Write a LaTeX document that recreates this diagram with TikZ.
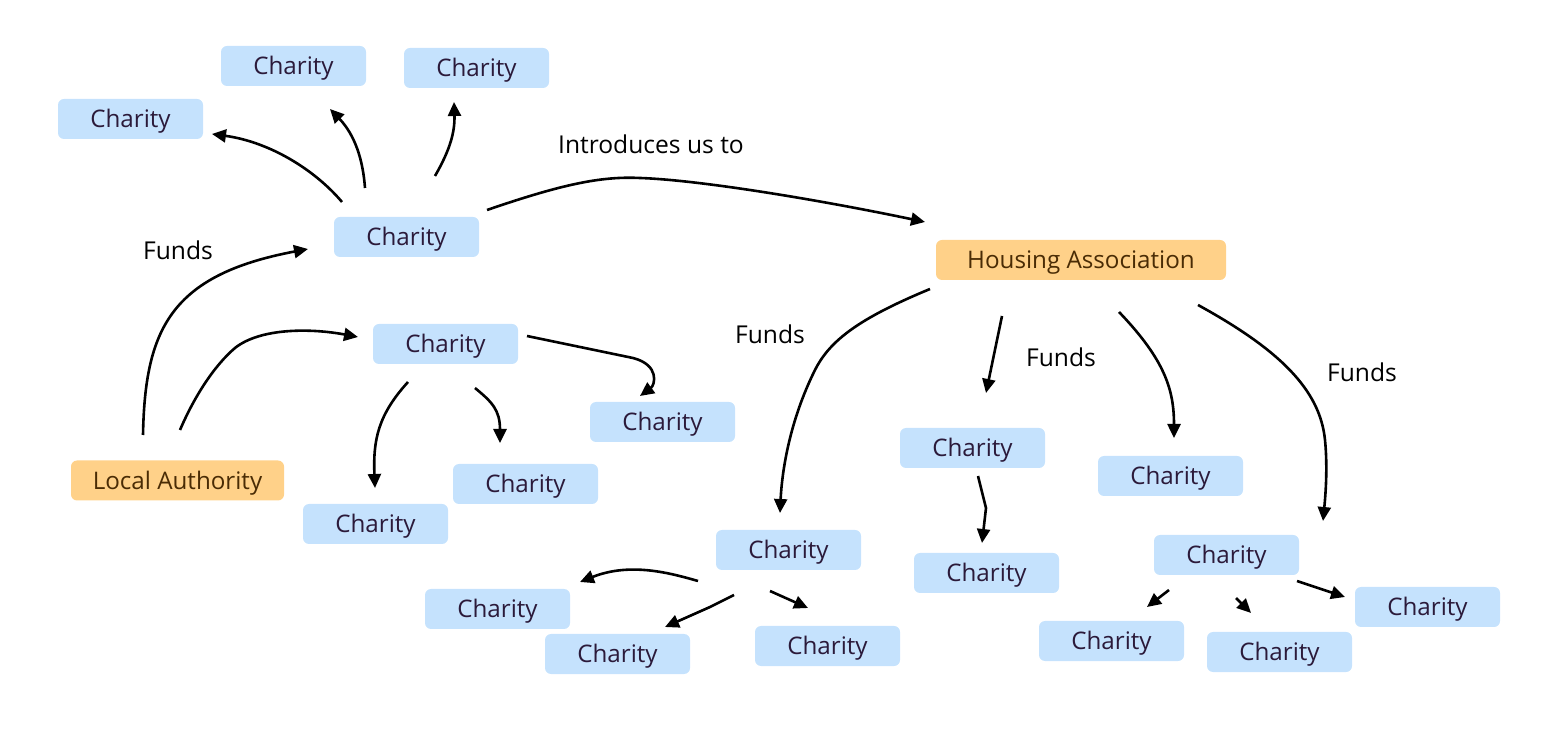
\documentclass[tikz,border=0pt]{standalone}
\usepackage{fontspec}
\setmainfont{Open Sans}
\usetikzlibrary{arrows.meta,calc}
\definecolor{cblue}{HTML}{C5E2FD}
\definecolor{corange}{HTML}{FFD189}
\definecolor{ctext}{HTML}{2B1A3A}
\definecolor{otext}{HTML}{4A2C05}
\tikzset{
  box/.style={rounded corners=3pt,minimum height=20pt,inner sep=0pt,text height=8.6pt,text depth=0pt,font=\fontsize{12.1}{14}\selectfont},
  charity/.style={box,fill=cblue,text=ctext,minimum width=72.5pt},
  org/.style={box,fill=corange,text=otext},
  lbl/.style={font=\fontsize{12.3}{14}\selectfont,text=black,text height=8.8pt,text depth=0pt,inner sep=0pt},
  arr/.style={line width=1.3pt,-{Triangle[length=7pt,width=6.5pt]}}
}
\begin{document}
\begin{tikzpicture}[x=0.5pt,y=-0.5pt]
\useasboundingbox (0,0) rectangle (1558,731);
% nodes
\node[charity] (c1) at (293.5,66) {Charity};
\node[charity] (c2) at (476.5,68) {Charity};
\node[charity] (c3) at (130.5,119) {Charity};
\node[charity] (c4) at (406.5,237) {Charity};
\node[charity] (c5) at (445.5,344) {Charity};
\node[charity] (c6) at (662.5,422) {Charity};
\node[charity] (c7) at (525.5,484) {Charity};
\node[charity] (c8) at (375.5,524) {Charity};
\node[org,minimum width=106.5pt] (la) at (177.5,480.5) {Local Authority};
\node[org,minimum width=145pt] (ha) at (1081,260) {Housing Association};
\node[charity] (c9) at (972.5,448) {Charity};
\node[charity] (c10) at (986.5,573) {Charity};
\node[charity] (c11) at (1170.5,476) {Charity};
\node[charity] (c12) at (788.5,550) {Charity};
\node[charity] (c13) at (497.5,609) {Charity};
\node[charity] (c14) at (617.5,654) {Charity};
\node[charity] (c15) at (827.5,646) {Charity};
\node[charity] (c16) at (1226.5,555) {Charity};
\node[charity] (c17) at (1111.5,641) {Charity};
\node[charity] (c18) at (1279.5,652) {Charity};
\node[charity] (c19) at (1427.5,607) {Charity};
% labels
\node[lbl] (l1) at (651,145) {Introduces us to};
\node[lbl] (l2) at (178,251) {Funds};
\node[lbl] (l3) at (770,335) {Funds};
\node[lbl] (l4) at (1061,358) {Funds};
\node[lbl] (l5) at (1362,373) {Funds};
% connectors
\draw[arr] ([shift={(-64.5,-35)}]c4.center) .. controls (315,170) and (270,142) .. ([shift={(81.5,15)}]c3.center);
\draw[arr] ([shift={(-41.5,-49)}]c4.center) .. controls (363,160) and (355,135) .. ([shift={(36.5,43)}]c1.center);
\draw[arr] ([shift={(28.5,-61)}]c4.center) .. controls (450,150) and (455,132) .. ([shift={(-22.5,34)}]c2.center);
\draw[arr] ([shift={(80.5,-27)}]c4.center) .. controls (560,185) and (600,176) .. (640,178) .. controls (700,180) and (820,200) .. ([shift={(-156,-38)}]ha.center);
\draw[arr] ([shift={(-34.5,-45.5)}]la.center) .. controls (145,330) and (170,275) .. ([shift={(-98.5,12)}]c4.center);
\draw[arr] ([shift={(2.5,-50.5)}]la.center) .. controls (195,395) and (215,365) .. (235,348) .. controls (260,328) and (310,328) .. ([shift={(-87.5,-7)}]c5.center);
\draw[arr] ([shift={(81.5,-8)}]c5.center) -- (633,358) .. controls (660,365) and (655,385) .. ([shift={(-22.5,-26)}]c6.center);
\draw[arr] ([shift={(-37.5,38)}]c5.center) .. controls (378,415) and (373,440) .. ([shift={(-0.5,-36)}]c8.center);
\draw[arr] ([shift={(29.5,44)}]c5.center) .. controls (492,402) and (500,410) .. ([shift={(-25.5,-41)}]c7.center);
\draw[arr] ([shift={(-151,29)}]ha.center) .. controls (860,318) and (830,340) .. (815,370) .. controls (790,420) and (782,470) .. ([shift={(-8.5,-37)}]c12.center);
\draw[arr] ([shift={(-79,56)}]ha.center) -- ([shift={(13.5,-55)}]c9.center);
\draw[arr] ([shift={(38,52)}]ha.center) .. controls (1165,360) and (1174,390) .. ([shift={(3.5,-38)}]c11.center);
\draw[arr] ([shift={(117,45)}]ha.center) .. controls (1280,350) and (1320,390) .. (1325,440) .. controls (1328,470) and (1325,500) .. ([shift={(96.5,-34)}]c16.center);
\draw[arr] ([shift={(5.5,28)}]c9.center) -- (986,508) -- ([shift={(-4.5,-30)}]c10.center);
\draw[arr] ([shift={(-90.5,31)}]c12.center) .. controls (670,573) and (630,562) .. ([shift={(82.5,-27)}]c13.center);
\draw[arr] ([shift={(-54.5,45)}]c12.center) -- (710,607) -- ([shift={(47.5,-27)}]c14.center);
\draw[arr] ([shift={(-18.5,41)}]c12.center) -- ([shift={(-19.5,-38)}]c15.center);
\draw[arr] ([shift={(-57.5,35)}]c16.center) -- ([shift={(35.5,-34)}]c17.center);
\draw[arr] ([shift={(9.5,43)}]c16.center) -- ([shift={(-28.5,-39)}]c18.center);
\draw[arr] ([shift={(70.5,26)}]c16.center) -- ([shift={(-82.5,-10)}]c19.center);
\end{tikzpicture}
\end{document}
